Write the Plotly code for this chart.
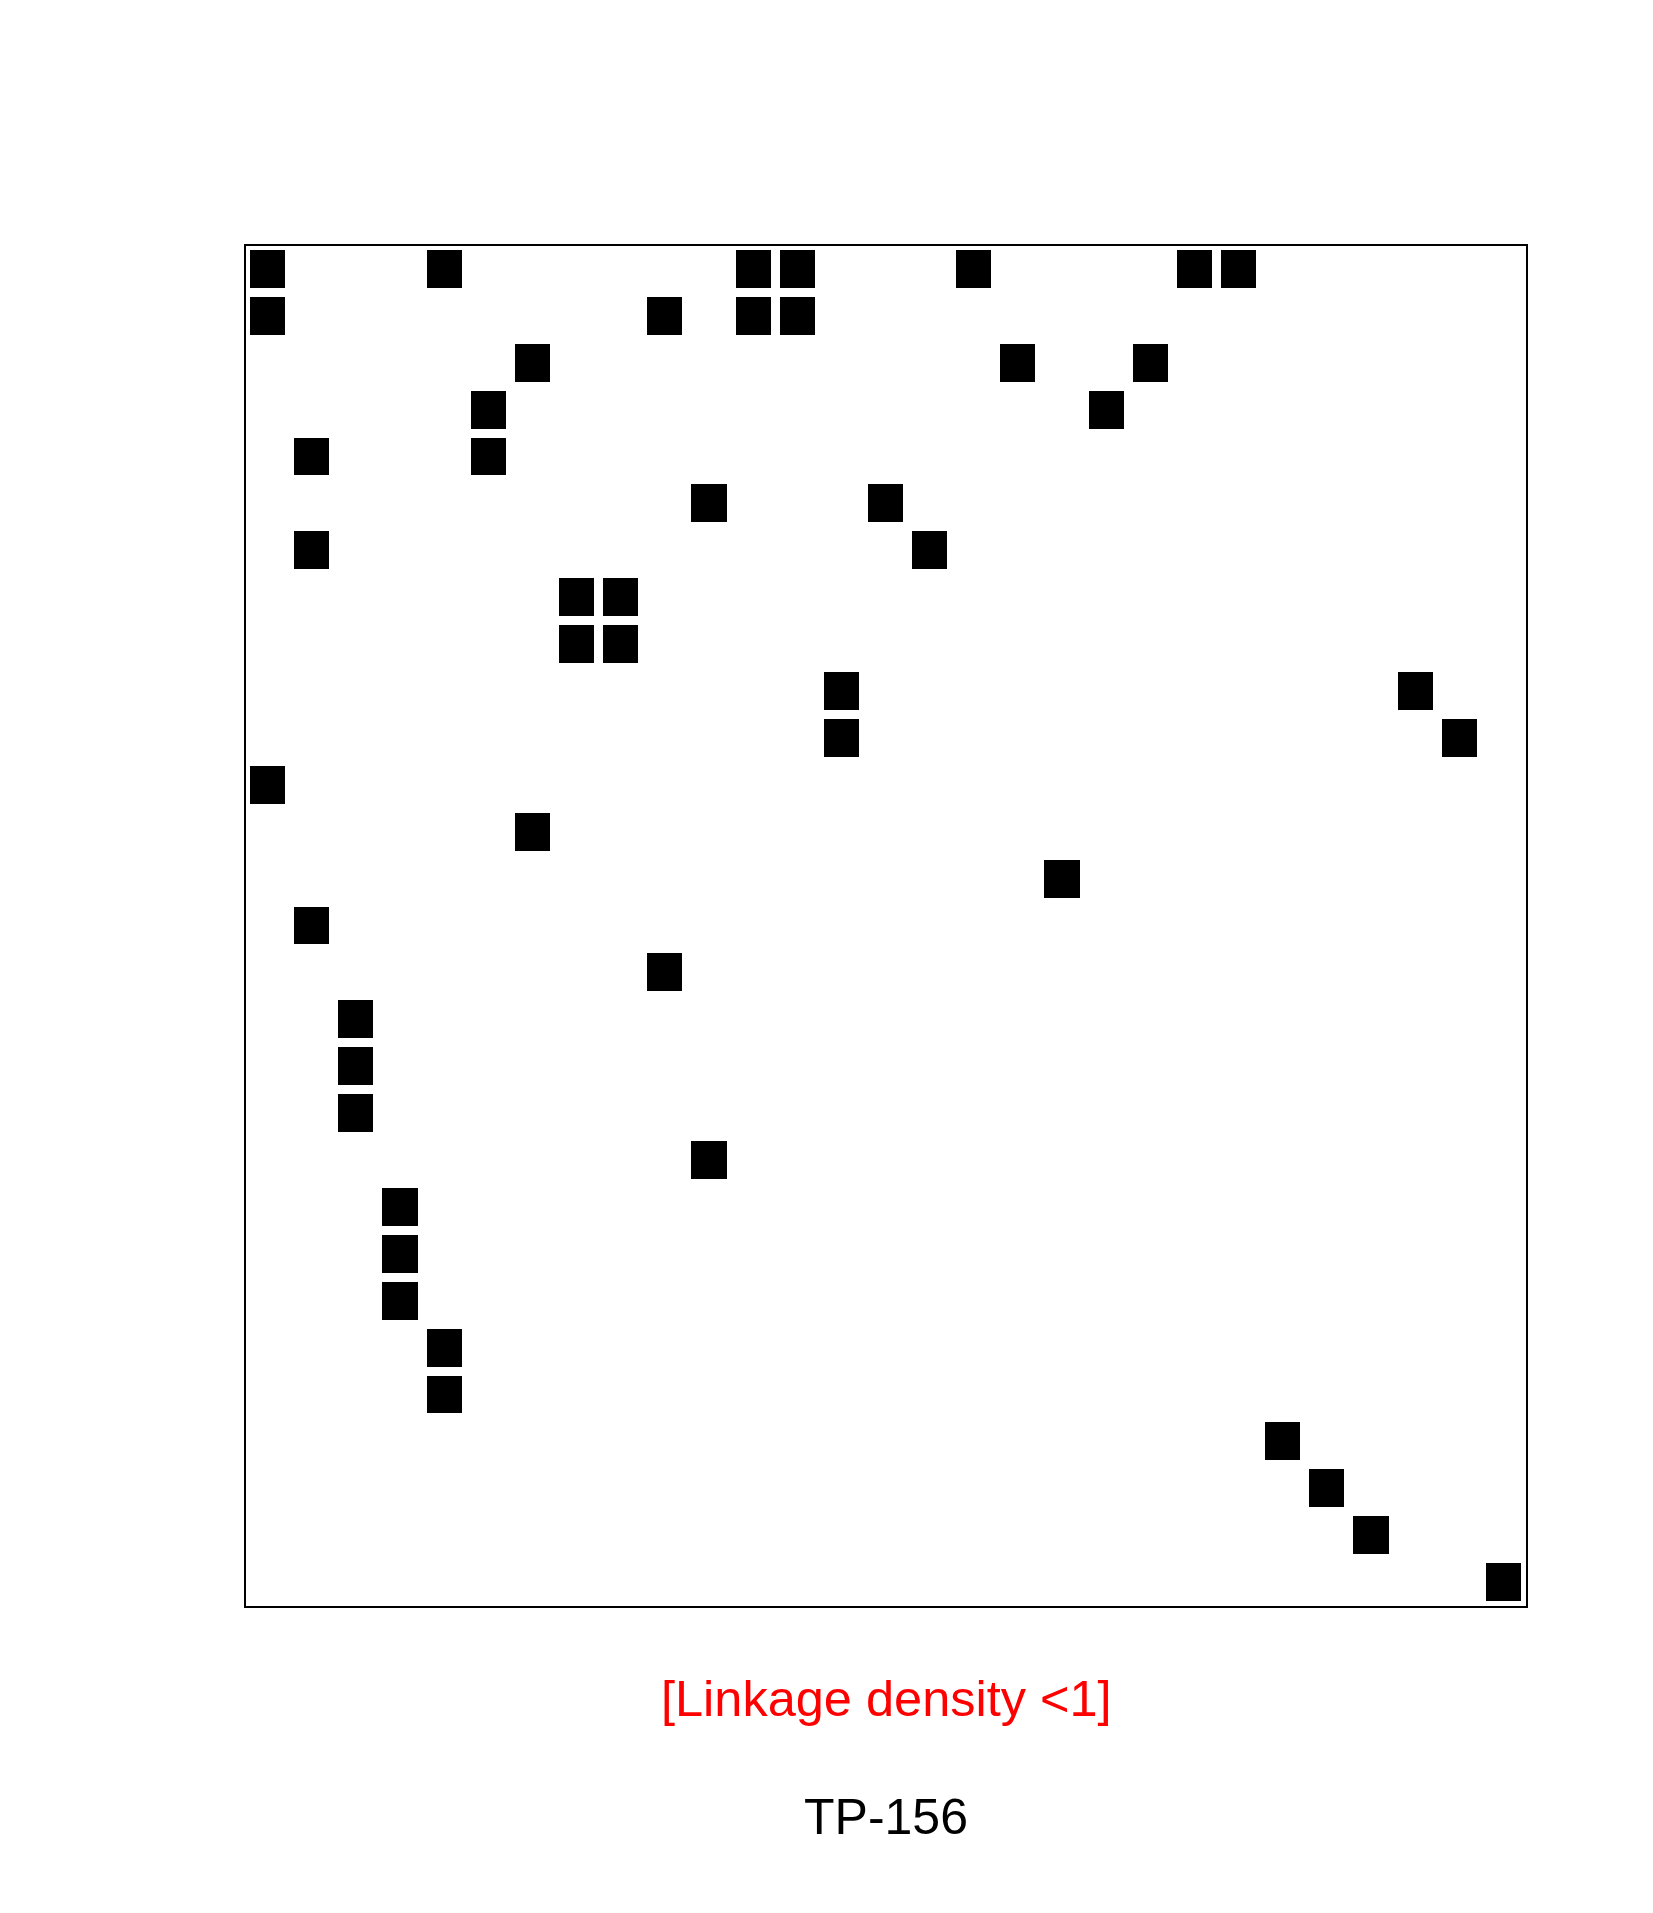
import plotly.graph_objects as go

# Matrix size and occupied cells (row, column), 1-based, rows counted from top
n_rows = 29
n_cols = 29
cell_rows = [1, 1, 1, 1, 1, 1, 1,
             2, 2, 2, 2,
             3, 3, 3,
             4, 4,
             5, 5,
             6, 6,
             7, 7,
             8, 8,
             9, 9,
             10, 10,
             11, 11,
             12, 13, 14, 15, 16, 17, 18, 19, 20, 21, 22, 23, 24, 25, 26, 27, 28, 29]
cell_cols = [1, 5, 12, 13, 17, 22, 23,
             1, 10, 12, 13,
             7, 18, 21,
             6, 20,
             2, 6,
             11, 15,
             2, 16,
             8, 9,
             8, 9,
             14, 27,
             14, 28,
             1, 7, 19, 2, 10, 3, 3, 3, 11, 4, 4, 4, 5, 5, 24, 25, 26, 29]
subtitle = "[Linkage density <1]"
title = "TP-156"

z = [[None] * n_cols for _ in range(n_rows)]
for r, c in zip(cell_rows, cell_cols):
    z[r - 1][c - 1] = 1

fig = go.Figure(go.Heatmap(
    z=z,
    x=list(range(1, n_cols + 1)),
    y=list(range(1, n_rows + 1)),
    colorscale=[[0, "black"], [1, "black"]],
    showscale=False,
    xgap=9, ygap=9,
    hoverinfo="skip",
))

W, H = 1653, 1913
L, R, T, B = 246, 127, 246, 307

axis_common = dict(showgrid=False, zeroline=False, showticklabels=False, ticks="",
                   showline=True, linecolor="black", linewidth=2.3, mirror=True)
fig.update_xaxes(range=[0.5, n_cols + 0.5], **axis_common)
fig.update_yaxes(range=[n_rows + 0.5, 0.5], **axis_common)

ph = H - T - B
def py(pix):
    return (H - B - pix) / ph

fig.add_annotation(text=subtitle, xref="paper", yref="paper", x=0.5, y=py(1698),
                   xanchor="center", yanchor="middle", showarrow=False,
                   font=dict(family="Liberation Sans, Arial", size=50.5, color="#ff0000"))
fig.add_annotation(text=title, xref="paper", yref="paper", x=0.5, y=py(1817),
                   xanchor="center", yanchor="middle", showarrow=False,
                   font=dict(family="Liberation Sans, Arial", size=50, color="black"))

fig.update_layout(width=W, height=H, margin=dict(l=L, r=R, t=T, b=B),
                  plot_bgcolor="white", paper_bgcolor="white", showlegend=False)

fig.write_html("out.html")
